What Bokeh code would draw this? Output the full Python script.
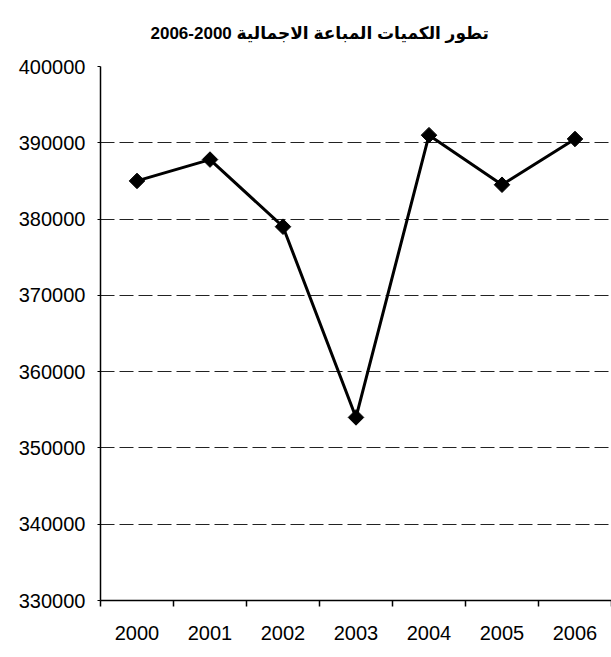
import math
from bokeh.plotting import figure
from bokeh.models import FixedTicker, Range1d
from bokeh.embed import file_html
from bokeh.resources import INLINE

# data
years = ["2000", "2001", "2002", "2003", "2004", "2005", "2006"]
quantities = [385000, 387800, 379000, 354000, 391000, 384500, 390500]
y_ticks = [330000, 340000, 350000, 360000, 370000, 380000, 390000, 400000]
title_text = "2006-2000 تطور الكميات المباعة الاجمالية"

centers = [i + 0.5 for i in range(len(years))]
bounds = [i for i in range(len(years) + 1)]

p = figure(width=611, height=648, output_backend="svg", toolbar_location=None,
           x_range=Range1d(0, len(years)), y_range=Range1d(y_ticks[0], y_ticks[-1]),
           min_border_left=100, min_border_right=0, min_border_top=66, min_border_bottom=48)

p.title.text = title_text
p.title.text_font = "Liberation Sans, DejaVu Sans"
p.title.text_font_size = "17px"
p.title.text_font_style = "bold"
p.title.text_color = "black"
p.title.align = "left"
p.title.offset = 50
p.title.vertical_align = "top"
p.title.standoff = 44

p.outline_line_color = None
p.background_fill_color = "white"
p.border_fill_color = "white"

# x axis
p.xaxis.ticker = FixedTicker(ticks=centers, minor_ticks=bounds)
p.xaxis.major_label_overrides = {c: y for c, y in zip(centers, years)}
p.xaxis.major_tick_out = 0
p.xaxis.major_tick_in = 0
p.xaxis.minor_tick_out = 6
p.xaxis.minor_tick_in = 0
p.xaxis.minor_tick_line_color = "black"
p.xaxis.minor_tick_line_width = 1.5
p.xaxis.axis_line_color = "black"
p.xaxis.axis_line_width = 1.5
p.xaxis.major_label_standoff = 19
p.xaxis.major_label_text_font = "Liberation Sans"
p.xaxis.major_label_text_font_size = "20px"
p.xaxis.major_label_text_color = "black"

# y axis
p.yaxis.ticker = FixedTicker(ticks=y_ticks)
p.yaxis.major_label_overrides = {t: str(t) for t in y_ticks}
p.yaxis.major_tick_out = 3
p.yaxis.major_tick_in = 0
p.yaxis.minor_tick_line_color = None
p.yaxis.axis_line_color = "black"
p.yaxis.axis_line_width = 1.5
p.yaxis.major_label_standoff = 12
p.yaxis.major_label_text_font = "Liberation Sans"
p.yaxis.major_label_text_font_size = "20px"
p.yaxis.major_label_text_color = "black"

p.xgrid.grid_line_color = None
p.ygrid.ticker = FixedTicker(ticks=y_ticks[1:])
p.ygrid.grid_line_color = "#222222"
p.ygrid.grid_line_width = 1
p.ygrid.grid_line_dash = "14 5"

p.line(centers, quantities, line_color="black", line_width=3)
p.scatter(centers, quantities, marker="square", angle=math.pi / 4, size=11,
          fill_color="black", line_color="black")

open("out.html", "w").write(file_html(p, INLINE))
